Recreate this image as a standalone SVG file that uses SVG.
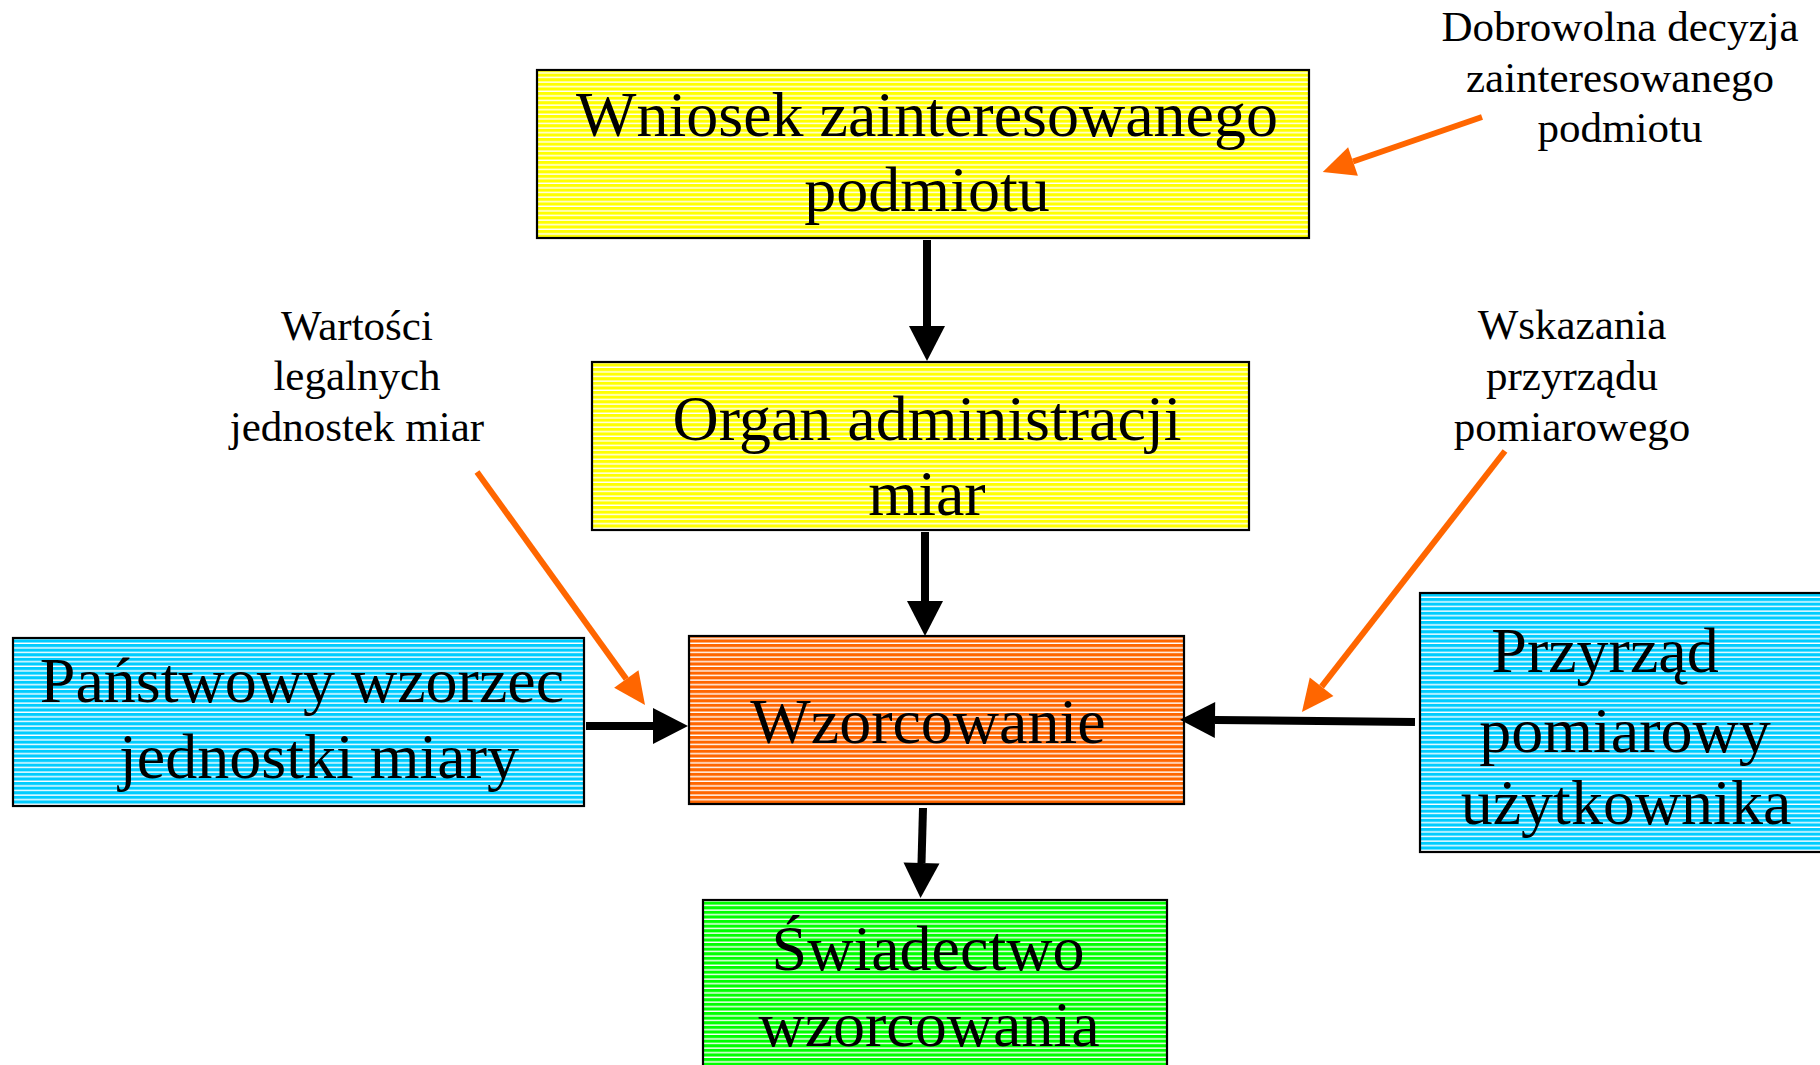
<svg xmlns="http://www.w3.org/2000/svg" width="1820" height="1065" viewBox="0 0 1820 1065">
  <style>
    .hatch { fill: url(#hatch); stroke: none; }
    .frame { fill: none; stroke: #000; stroke-width: 2.2; }
    .big { font-family: "Liberation Serif", "Times New Roman", serif; font-size: 64px; fill: #000; text-anchor: middle; }
    .note { font-family: "Liberation Serif", "Times New Roman", serif; font-size: 43px; fill: #000; text-anchor: middle; }
    .flow { stroke: #000; stroke-width: 8; fill: none; marker-end: url(#head-black); }
    .hint { stroke: #FF6600; stroke-width: 6; fill: none; marker-end: url(#head-orange); }
  </style>
  <defs>
    <!-- thin white horizontal lines laid over every box fill -->
    <pattern id="hatch" patternUnits="userSpaceOnUse" width="10" height="4.6">
      <rect x="0" y="3.2" width="10" height="1.4" fill="#FFFFFF"/>
    </pattern>
    <marker id="head-black" markerUnits="userSpaceOnUse" markerWidth="36" markerHeight="36" refX="0" refY="18" orient="auto" overflow="visible">
      <path d="M0,0 L35,18 L0,36 Z" fill="#000"/>
    </marker>
    <marker id="head-orange" markerUnits="userSpaceOnUse" markerWidth="32" markerHeight="30" refX="0" refY="15" orient="auto" overflow="visible">
      <path d="M0,0 L32,15 L0,30 Z" fill="#FF6600"/>
    </marker>
  </defs>

  <rect width="1820" height="1065" fill="#FFFFFF"/>

  <!-- request of the interested party -->
  <g id="wniosek">
    <rect x="537" y="70" width="772" height="168" fill="#FFFF00"/>
    <rect class="hatch" x="537" y="70" width="772" height="168"/>
    <rect class="frame" x="537" y="70" width="772" height="168"/>
    <text class="big" x="927" y="136">Wniosek zainteresowanego</text>
    <text class="big" x="927" y="211">podmiotu</text>
  </g>

  <!-- metrology authority -->
  <g id="organ">
    <rect x="592" y="362" width="657" height="168" fill="#FFFF00"/>
    <rect class="hatch" x="592" y="362" width="657" height="168"/>
    <rect class="frame" x="592" y="362" width="657" height="168"/>
    <text class="big" x="927" y="440">Organ administracji</text>
    <text class="big" x="927" y="515">miar</text>
  </g>

  <!-- calibration -->
  <g id="wzorcowanie">
    <rect x="689" y="636" width="495" height="168" fill="#FF6600"/>
    <rect class="hatch" x="689" y="636" width="495" height="168"/>
    <rect class="frame" x="689" y="636" width="495" height="168"/>
    <text class="big" x="928" y="743">Wzorcowanie</text>
  </g>

  <!-- national measurement standard -->
  <g id="wzorzec">
    <rect x="13" y="638" width="571" height="168" fill="#00CCFF"/>
    <rect class="hatch" x="13" y="638" width="571" height="168"/>
    <rect class="frame" x="13" y="638" width="571" height="168"/>
    <text class="big" x="302" y="702">Państwowy wzorzec</text>
    <text class="big" x="319" y="778">jednostki miary</text>
  </g>

  <!-- user's measuring instrument -->
  <g id="przyrzad">
    <rect x="1420" y="593" width="420" height="259" fill="#00CCFF"/>
    <rect class="hatch" x="1420" y="593" width="420" height="259"/>
    <rect class="frame" x="1420" y="593" width="420" height="259"/>
    <text class="big" x="1605" y="672">Przyrząd</text>
    <text class="big" x="1625" y="752">pomiarowy</text>
    <text class="big" x="1626" y="824">użytkownika</text>
  </g>

  <!-- calibration certificate -->
  <g id="swiadectwo">
    <rect x="703" y="900" width="464" height="190" fill="#00FF00"/>
    <rect class="hatch" x="703" y="900" width="464" height="190"/>
    <rect class="frame" x="703" y="900" width="464" height="190"/>
    <text class="big" x="928" y="970">Świadectwo</text>
    <text class="big" x="929" y="1046">wzorcowania</text>
  </g>

  <!-- side notes -->
  <g id="note-decyzja">
    <text class="note" x="1620" y="41">Dobrowolna decyzja</text>
    <text class="note" x="1620" y="92">zainteresowanego</text>
    <text class="note" x="1620" y="142">podmiotu</text>
  </g>
  <g id="note-wartosci">
    <text class="note" x="357" y="340">Wartości</text>
    <text class="note" x="357" y="390">legalnych</text>
    <text class="note" x="357" y="441">jednostek miar</text>
  </g>
  <g id="note-wskazania">
    <text class="note" x="1572" y="339">Wskazania</text>
    <text class="note" x="1572" y="390">przyrządu</text>
    <text class="note" x="1572" y="441">pomiarowego</text>
  </g>

  <g id="connectors">
    <path class="flow" d="M927,240 L927,326"/>
    <path class="flow" d="M925,532 L925,601"/>
    <path class="flow" d="M923,808 L921.5,863"/>
    <path class="flow" d="M586,726 L653,726"/>
    <path class="flow" d="M1415,722 L1215,720"/>
    <path class="hint" d="M1482,117 L1353,161.5"/>
    <path class="hint" d="M477,472 L626.3,679"/>
    <path class="hint" d="M1505,451 L1321.6,686.7"/>
  </g>
</svg>
